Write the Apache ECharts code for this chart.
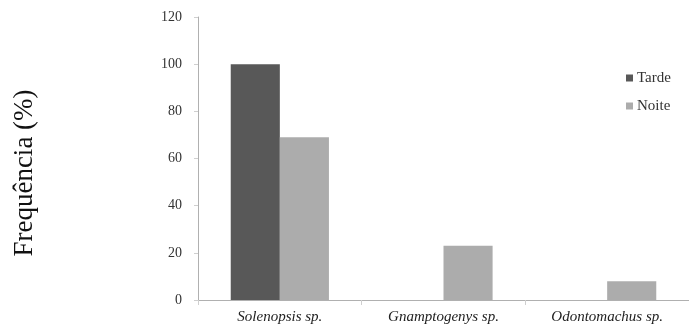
<!DOCTYPE html>
<html><head><meta charset="utf-8">
<script src="https://cdn.jsdelivr.net/npm/echarts@6/dist/echarts.min.js"></script>
<style>html,body{margin:0;padding:0;background:#fff}#c{width:689px;height:329px}</style>
</head><body><div id="c"></div>
<script>
const categories = ['Solenopsis sp.', 'Gnamptogenys sp.', 'Odontomachus sp.'];
const tarde = [100, 0, 0];
const noite = [69, 23, 8];
const yTicks = [0, 20, 40, 60, 80, 100, 120];
const seriesNames = ['Tarde', 'Noite'];
const yTitle = 'Frequência (%)';

const chart = echarts.init(document.getElementById('c'));
const serif = '"Liberation Serif", "Times New Roman", serif';
chart.setOption({
  animation: false,
  backgroundColor: '#fff',
  grid: { left: 198, top: 17, width: 501, height: 283 },
  graphic: [{
    type: 'text', x: 25, y: 173, rotation: Math.PI / 2,
    style: { text: yTitle, font: '27px ' + serif, fill: '#111', align: 'center', verticalAlign: 'middle' }
  }],
  legend: {
    orient: 'vertical', left: 621, top: 64, itemWidth: 7, itemHeight: 7, itemGap: 10,
    icon: 'rect',
    textStyle: { fontFamily: serif, fontSize: 15, lineHeight: 18, color: '#333', padding: [0, 0, 0, -1] },
    data: seriesNames
  },
  xAxis: {
    type: 'category', data: categories,
    axisLine: { lineStyle: { color: '#b0b0b0' } },
    axisTick: { show: true, length: 5, lineStyle: { color: '#cfcfcf' } },
    axisLabel: { fontFamily: serif, fontStyle: 'italic', fontSize: 15, color: '#222', margin: 10 }
  },
  yAxis: {
    type: 'value', min: yTicks[0], max: yTicks[yTicks.length - 1], interval: 20,
    axisLine: { show: true, lineStyle: { color: '#b0b0b0' } },
    axisTick: { show: true, length: 4, lineStyle: { color: '#cfcfcf' } },
    splitLine: { show: false },
    axisLabel: { fontFamily: serif, fontSize: 14, color: '#333', margin: 16 }
  },
  series: [
    { name: seriesNames[0], type: 'bar', data: tarde, barGap: '0%', barCategoryGap: '40%',
      itemStyle: { color: '#585858' } },
    { name: seriesNames[1], type: 'bar', data: noite,
      itemStyle: { color: '#acacac' } }
  ]
});
</script></body></html>
